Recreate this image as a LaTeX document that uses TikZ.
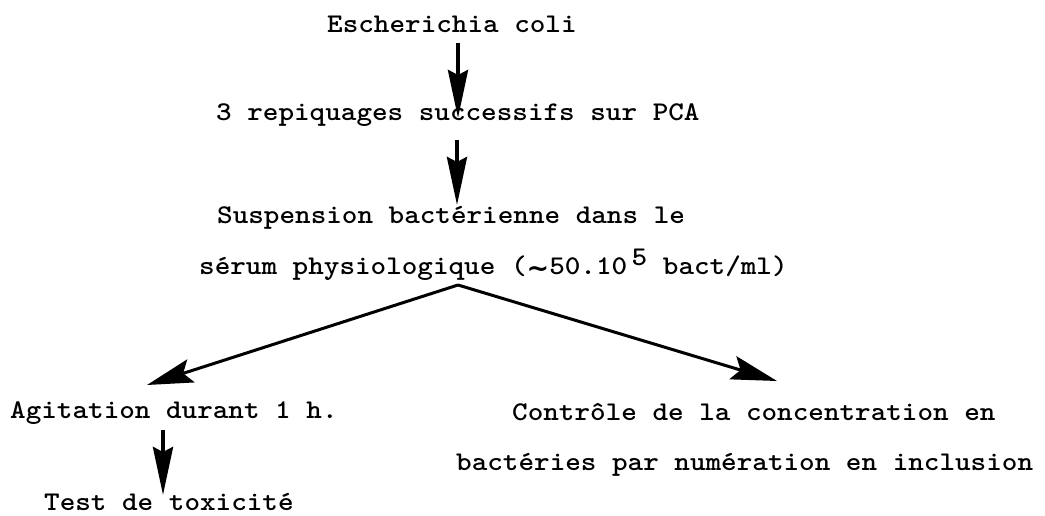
\documentclass[tikz,border=0pt]{standalone}
\usepackage{fontspec}
\newfontfamily\twfont{lmmonolt10-bold.otf}[FakeStretch=1.1]
\newfontfamily\symfont{DejaVu Sans}
\usetikzlibrary{arrows.meta}
\begin{document}
\begin{tikzpicture}[x=1pt,y=-1pt,
  lbl/.style={anchor=base west,inner sep=0pt,font=\twfont\fontsize{27}{30}\selectfont},
  varr/.style={line width=4pt,-{Stealth[length=48pt,width=20pt,inset=5pt]}},
  darr/.style={line width=3pt,-{Stealth[length=46pt,width=24pt,inset=8pt]}}]
\useasboundingbox (0,0) rectangle (1045,516);
\node[lbl] (ecoli) at (327,33) {Escherichia coli};
\node[lbl] (repiq) at (216,121) {3 repiquages successifs sur PCA};
\node[lbl] (susp1) at (217,224) {Suspension bactérienne dans le};
\node[lbl] (susp2) at (199,274) {sérum physiologique ({\symfont\bfseries\raisebox{-3pt}{∼}}50.10\,\raisebox{9pt}{5} bact/ml)};
\node[lbl] (agit) at (10,418) {Agitation durant 1 h.};
\node[lbl] (test) at (44,510) {Test de toxicité};
\node[lbl] (ctrl1) at (512,420) {Contrôle de la concentration en};
\node[lbl] (ctrl2) at (456,470) {bactéries par numération en inclusion};
\coordinate (a1s) at (458,43);
\coordinate (a1e) at (458,118);
\coordinate (a2s) at (457,140);
\coordinate (a2e) at (457,205);
\coordinate (a3s) at (163,430);
\coordinate (a3e) at (163,495);
\coordinate (apex) at (458,285);
\coordinate (ltip) at (147,385);
\coordinate (rtip) at (777,381);
\draw[varr] (a1s) -- (a1e);
\draw[varr] (a2s) -- (a2e);
\draw[varr] (a3s) -- (a3e);
\draw[darr] (apex) -- (ltip);
\draw[darr] (apex) -- (rtip);
\end{tikzpicture}
\end{document}
